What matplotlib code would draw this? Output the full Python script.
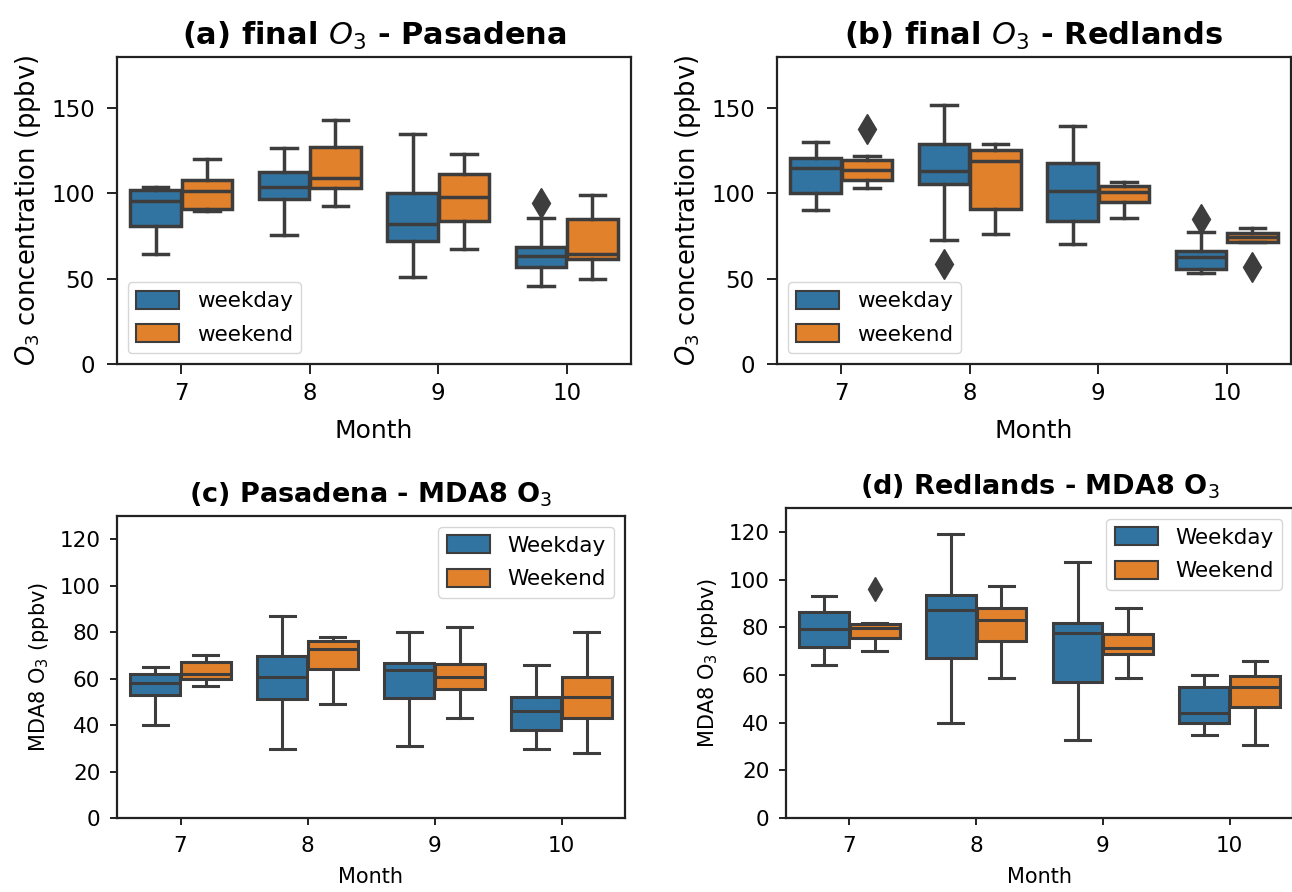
import matplotlib
matplotlib.use("Agg")
import matplotlib.pyplot as plt
from matplotlib.patches import Patch

months = [7, 8, 9, 10]

# Box statistics per month: [lower whisker, Q1, median, Q3, upper whisker]
pas_final_weekday = [[64.6, 81.0, 95.5, 102.0, 104.0],
                     [75.6, 97.0, 103.7, 112.5, 126.5],
                     [51.0, 72.0, 82.0, 100.5, 135.0],
                     [45.9, 56.6, 63.5, 68.7, 85.7]]
pas_final_weekend = [[89.6, 91.0, 101.5, 108.0, 120.0],
                     [92.8, 103.0, 109.0, 127.0, 143.0],
                     [67.2, 83.6, 97.8, 111.5, 123.4],
                     [49.6, 61.3, 64.6, 85.2, 99.2]]
pas_final_weekday_fliers = [[], [], [], [94.5]]
pas_final_weekend_fliers = [[], [], [], []]

red_final_weekday = [[90.4, 100.2, 115.2, 120.7, 130.3],
                     [72.9, 105.7, 113.0, 128.9, 151.8],
                     [70.1, 83.6, 101.6, 117.8, 139.5],
                     [53.3, 55.8, 62.5, 66.1, 77.3]]
red_final_weekend = [[103.3, 107.8, 113.9, 119.7, 122.0],
                     [76.2, 91.0, 119.3, 125.6, 129.1],
                     [85.7, 94.7, 100.6, 104.1, 106.8],
                     [71.8, 71.8, 74.4, 76.8, 79.7]]
red_final_weekday_fliers = [[], [58.8], [], [84.8]]
red_final_weekend_fliers = [[137.7], [], [], [56.7]]

pas_mda8_weekday = [[40.0, 53.0, 58.2, 62.2, 65.0],
                    [29.9, 51.2, 60.8, 69.9, 87.0],
                    [30.9, 51.6, 63.9, 66.8, 80.1],
                    [29.9, 37.9, 46.0, 52.1, 66.0]]
pas_mda8_weekend = [[57.0, 59.8, 62.0, 67.1, 70.0],
                    [49.1, 64.0, 72.6, 76.2, 78.0],
                    [43.1, 55.4, 60.8, 66.4, 82.1],
                    [27.9, 42.9, 52.1, 60.8, 80.1]]
pas_mda8_weekday_fliers = [[], [], [], []]
pas_mda8_weekend_fliers = [[], [], [], []]

red_mda8_weekday = [[64.0, 71.8, 79.1, 86.5, 93.1],
                    [39.8, 67.2, 87.2, 93.6, 119.2],
                    [32.8, 57.0, 77.4, 81.9, 107.2],
                    [34.7, 39.7, 43.9, 54.9, 59.8]]
red_mda8_weekend = [[69.9, 75.3, 79.5, 81.5, 81.9],
                    [58.7, 74.1, 83.1, 87.9, 97.1],
                    [58.8, 68.7, 71.3, 77.1, 87.9],
                    [30.7, 46.7, 55.1, 59.5, 65.8]]
red_mda8_weekday_fliers = [[], [], [], []]
red_mda8_weekend_fliers = [[96.0], [], [], []]

BLUE = "#3274a1"
ORANGE = "#e1812c"
GRAY = "#3d3d3d"

W, H = 1292, 892
fig = plt.figure(figsize=(W / 100, H / 100), dpi=100)


def px_axes(left, top, right, bottom):
    return fig.add_axes([left / W, 1 - bottom / H, (right - left) / W, (bottom - top) / H])


def stats_list(rows, fliers):
    out = []
    for r, f in zip(rows, fliers):
        lo, q1, med, q3, hi = r
        out.append(dict(whislo=lo, q1=q1, med=med, q3=q3, whishi=hi, fliers=f))
    return out


def draw_panel(ax, weekday, weekend, wd_fl, we_fl, lw, msize, tick_fs,
               tick_len, xpad, ypad):
    width = 0.392
    for rows, fl, off, col in [(weekday, wd_fl, -0.2, BLUE), (weekend, we_fl, 0.2, ORANGE)]:
        pos = [i + off for i in range(len(months))]
        ax.bxp(stats_list(rows, fl), positions=pos, widths=width, patch_artist=True,
               showfliers=True, manage_ticks=False,
               boxprops=dict(facecolor=col, edgecolor=GRAY, linewidth=lw),
               medianprops=dict(color=GRAY, linewidth=lw),
               whiskerprops=dict(color=GRAY, linewidth=lw),
               capprops=dict(color=GRAY, linewidth=lw),
               flierprops=dict(marker="d", markerfacecolor=GRAY, markeredgecolor=GRAY,
                               markersize=msize, linestyle="none"))
    ax.set_xlim(-0.5, len(months) - 0.5)
    ax.set_xticks(range(len(months)))
    ax.set_xticklabels([str(m) for m in months])
    ax.tick_params(labelsize=tick_fs, width=1.4, length=tick_len, color="#222222")
    ax.tick_params(axis="x", pad=xpad)
    ax.tick_params(axis="y", pad=ypad)
    for s in ax.spines.values():
        s.set_linewidth(1.6)
        s.set_color("#222222")


def legend(ax, labels, loc, fs, spacing):
    handles = [Patch(facecolor=BLUE, edgecolor=GRAY, linewidth=1.5),
               Patch(facecolor=ORANGE, edgecolor=GRAY, linewidth=1.5)]
    ax.legend(handles, labels, loc=loc, fontsize=fs, handlelength=2.0,
              handleheight=0.9, labelspacing=spacing)


# Top row: final O3
ax_a = px_axes(117, 57, 631, 364)
draw_panel(ax_a, pas_final_weekday, pas_final_weekend,
           pas_final_weekday_fliers, pas_final_weekend_fliers,
           2.5, 15, 16.5, 7, 6, 9)
ax_a.set_ylim(0, 180)
ax_a.set_yticks([0, 50, 100, 150])
ax_a.set_title("(a) final $O_3$ - Pasadena", fontsize=22, fontweight="bold", pad=9)
ax_a.set_xlabel("Month", fontsize=18, labelpad=10)
ax_a.set_ylabel("$O_3$ concentration (ppbv)", fontsize=18.5, labelpad=6)
legend(ax_a, ["weekday", "weekend"], "lower left", 15.5, 0.6)

ax_b = px_axes(777, 57, 1291, 364)
draw_panel(ax_b, red_final_weekday, red_final_weekend,
           red_final_weekday_fliers, red_final_weekend_fliers,
           2.5, 15, 16.5, 7, 6, 9)
ax_b.set_ylim(0, 180)
ax_b.set_yticks([0, 50, 100, 150])
ax_b.set_title("(b) final $O_3$ - Redlands", fontsize=22, fontweight="bold", pad=9)
ax_b.set_xlabel("Month", fontsize=18, labelpad=10)
ax_b.set_ylabel("$O_3$ concentration (ppbv)", fontsize=18.5, labelpad=6)
legend(ax_b, ["weekday", "weekend"], "lower left", 15.5, 0.6)

# Bottom row: MDA8 O3
ax_c = px_axes(117, 516, 625, 818)
draw_panel(ax_c, pas_mda8_weekday, pas_mda8_weekend,
           pas_mda8_weekday_fliers, pas_mda8_weekend_fliers,
           2.2, 12, 15.5, 5, 8, 7)
ax_c.set_ylim(0, 130)
ax_c.set_yticks(range(0, 121, 20))
ax_c.set_title("(c) Pasadena - MDA8 O$_3$", fontsize=19.5, fontweight="bold", pad=10)
ax_c.set_xlabel("Month", fontsize=15, labelpad=8)
ax_c.set_ylabel("MDA8 O$_3$ (ppbv)", fontsize=15, labelpad=6)
legend(ax_c, ["Weekday", "Weekend"], "upper right", 15.5, 0.6)

ax_d = px_axes(786, 508, 1293, 818)
draw_panel(ax_d, red_mda8_weekday, red_mda8_weekend,
           red_mda8_weekday_fliers, red_mda8_weekend_fliers,
           2.2, 12, 15.5, 5, 8, 7)
ax_d.set_ylim(0, 130)
ax_d.set_yticks(range(0, 121, 20))
ax_d.set_title("(d) Redlands - MDA8 O$_3$", fontsize=19.5, fontweight="bold", pad=10)
ax_d.set_xlabel("Month", fontsize=15, labelpad=8)
ax_d.set_ylabel("MDA8 O$_3$ (ppbv)", fontsize=15, labelpad=6)
legend(ax_d, ["Weekday", "Weekend"], "upper right", 15.5, 0.6)

fig.savefig("out.png", dpi=100, facecolor="white")
